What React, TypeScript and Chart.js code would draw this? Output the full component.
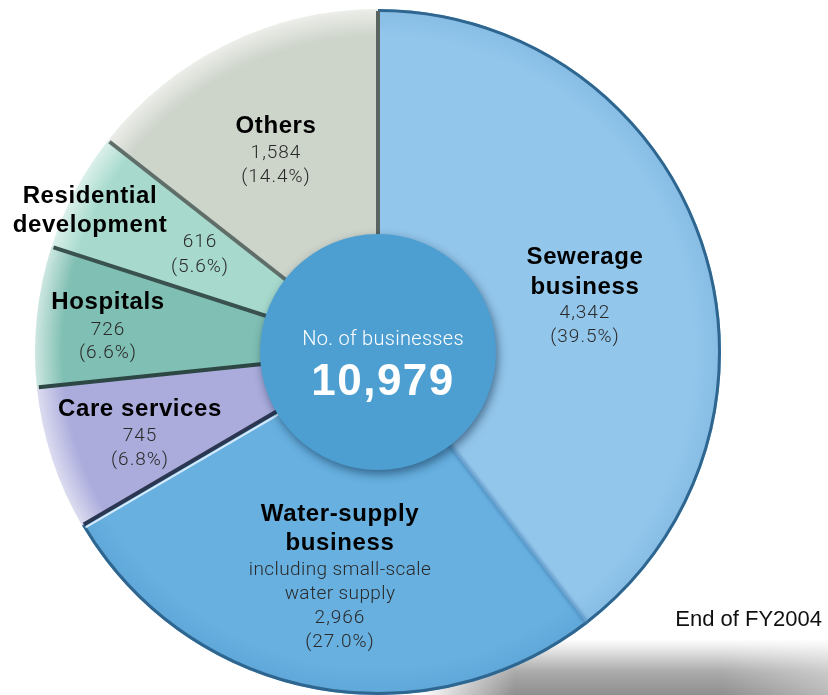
import React, { useEffect, useRef } from "react";
import { Chart, registerables } from "chart.js";

Chart.register(...registerables);

// ---------- data ----------
const categories: string[][] = [
  ["Sewerage", "business"],
  ["Water-supply", "business"],
  ["Care services"],
  ["Hospitals"],
  ["Residential", "development"],
  ["Others"],
];
const values: number[] = [4342, 2966, 745, 726, 616, 1584];
const notes: string[][] = [[], ["including small-scale", "water supply"], [], [], [], []];
const centerTitle = "No. of businesses";
const footnote = "End of FY2004";

// ---------- style ----------
const sliceColors = ["#93c6eb", "#67b0e0", "#abacdc", "#80bfb3", "#a7dacd", "#cdd4ca"];
const sliceEdge = ["#86bde4", "#5ea7d8", "#dcdcf0", "#cde7e1", "#dbf0ea", "#eceee9"];
const separatorColors = ["#5a6461", "rgba(70,130,180,0.55)", "#2b3650", "#2c4744", "#3a524f", "#5f6e69"];
const outerBorder = ["#2f6690", "#2f6690", null, null, null, null];

// label layout (page coordinates, line centres)
const labelLayout = [
  { x: 585, names: [257, 287], notes: [], nums: [313, 337] },
  { x: 340, names: [514, 543], notes: [570, 594], nums: [618, 642] },
  { x: 140, names: [409], notes: [], nums: [436, 460] },
  { x: 108, names: [302], notes: [], nums: [330, 353] },
  { x: 90, numX: 200, names: [196, 225], notes: [], nums: [242, 267] },
  { x: 276, names: [126], notes: [], nums: [153, 177] },
];

const BOLD = "bold 24px 'Liberation Sans', Arial, sans-serif";
const LIGHT = "300 19px Roboto, 'Liberation Sans', sans-serif";

const total = values.reduce((a, b) => a + b, 0);

const overlayPlugin = {
  id: "overlay",
  afterDatasetsDraw(chart: any) {
    const ctx: CanvasRenderingContext2D = chart.ctx;
    const meta = chart.getDatasetMeta(0);
    const arcs = meta.data as any[];
    if (!arcs.length) return;
    const cx = arcs[0].x;
    const cy = arcs[0].y;
    const R = arcs[0].outerRadius;

    // outer border on blue slices
    arcs.forEach((a, i) => {
      if (!outerBorder[i]) return;
      ctx.save();
      ctx.beginPath();
      ctx.arc(cx, cy, R - 1.5, a.startAngle, a.endAngle);
      ctx.strokeStyle = outerBorder[i] as string;
      ctx.lineWidth = 3;
      ctx.filter = "blur(0.6px)";
      ctx.stroke();
      ctx.restore();
    });

    // separators
    arcs.forEach((a, i) => {
      const ang = a.startAngle;
      ctx.save();
      ctx.beginPath();
      ctx.moveTo(cx, cy);
      ctx.lineTo(cx + Math.cos(ang) * (R - 2), cy + Math.sin(ang) * (R - 2));
      ctx.strokeStyle = separatorColors[i];
      ctx.lineWidth = i === 1 ? 5 : 4;
      ctx.filter = i === 1 ? "blur(1.5px)" : "blur(0.7px)";
      ctx.stroke();
      if (i === 2) {
        // highlight on the water-supply side
        const nx = -Math.sin(ang);
        const ny = Math.cos(ang);
        ctx.beginPath();
        ctx.moveTo(cx - nx * 3.5, cy - ny * 3.5);
        ctx.lineTo(cx + Math.cos(ang) * (R - 2) - nx * 3.5, cy + Math.sin(ang) * (R - 2) - ny * 3.5);
        ctx.strokeStyle = "rgba(235,245,255,0.85)";
        ctx.lineWidth = 2;
        ctx.stroke();
      }
      ctx.restore();
    });

    // centre circle
    const r0 = R * 0.344;
    ctx.save();
    ctx.beginPath();
    ctx.arc(cx, cy, r0, 0, Math.PI * 2);
    ctx.shadowColor = "rgba(10,40,70,0.55)";
    ctx.shadowBlur = 10;
    ctx.shadowOffsetX = 2;
    ctx.shadowOffsetY = 4;
    ctx.fillStyle = "#4d9fd2";
    ctx.fill();
    ctx.restore();

    ctx.save();
    ctx.textAlign = "center";
    ctx.textBaseline = "middle";
    ctx.fillStyle = "#ffffff";
    ctx.font = "300 20px Roboto, 'Liberation Sans', sans-serif";
    (ctx as any).letterSpacing = "0.3px";
    ctx.fillText(centerTitle, cx + 5, cy - 12);
    ctx.font = "bold 44px 'Liberation Sans', Arial, sans-serif";
    (ctx as any).letterSpacing = "1.5px";
    ctx.fillText(total.toLocaleString("en-US"), cx + 5, cy + 31);
    ctx.restore();

    // slice labels
    ctx.save();
    ctx.textAlign = "center";
    ctx.textBaseline = "middle";
    categories.forEach((lines, i) => {
      const L: any = labelLayout[i];
      ctx.font = BOLD;
      ctx.fillStyle = "#000000";
      (ctx as any).letterSpacing = "0.6px";
      lines.forEach((t, k) => ctx.fillText(t, L.x, L.names[k]));
      ctx.font = LIGHT;
      ctx.fillStyle = "#2a2a2a";
      (ctx as any).letterSpacing = "0.4px";
      notes[i].forEach((t, k) => ctx.fillText(t, L.x, L.notes[k]));
      (ctx as any).letterSpacing = "1px";
      const nx = L.numX ?? L.x;
      ctx.fillText(values[i].toLocaleString("en-US"), nx, L.nums[0]);
      ctx.fillText("(" + ((values[i] / total) * 100).toFixed(1) + "%)", nx, L.nums[1]);
    });
    ctx.restore();

    // footnote
    ctx.save();
    ctx.textAlign = "right";
    ctx.textBaseline = "middle";
    ctx.font = "22px 'Liberation Sans', Arial, sans-serif";
    ctx.fillStyle = "#111111";
    ctx.fillText(footnote, 822, 620);
    ctx.restore();
  },
};

export default function App() {
  const ref = useRef<HTMLCanvasElement | null>(null);

  useEffect(() => {
    if (!ref.current) return;
    const chart = new Chart(ref.current, {
      type: "pie",
      data: {
        labels: categories.map((c) => c.join(" ")),
        datasets: [
          {
            data: values,
            borderWidth: 0,
            backgroundColor: (c: any) => {
              const i = c.dataIndex;
              const chartObj = c.chart;
              const area = chartObj.chartArea;
              if (!area) return sliceColors[i];
              const cx = (area.left + area.right) / 2;
              const cy = (area.top + area.bottom) / 2;
              const r = Math.min(area.right - area.left, area.bottom - area.top) / 2;
              const g = chartObj.ctx.createRadialGradient(cx, cy, 0, cx, cy, r);
              g.addColorStop(0, sliceColors[i]);
              g.addColorStop(0.92, sliceColors[i]);
              g.addColorStop(1, sliceEdge[i]);
              return g;
            },
          },
        ],
      },
      options: {
        responsive: false,
        devicePixelRatio: 1,
        animation: false,
        layout: { padding: { left: 35, right: 107, top: 9, bottom: 0 } },
        plugins: {
          legend: { display: false },
          tooltip: { enabled: false },
        },
      },
      plugins: [overlayPlugin],
    });
    return () => chart.destroy();
  }, []);

  return (
    <div style={{ position: "fixed", left: 0, top: 0, width: 828, height: 695, background: "#ffffff", overflow: "hidden" }}>
      <div
        style={{
          position: "absolute",
          left: 420,
          top: 640,
          width: 430,
          height: 70,
          background:
            "linear-gradient(to bottom, rgba(255,255,255,0) 0%, rgba(150,150,150,0.8) 45%, rgba(125,125,125,1) 100%)",
          WebkitMaskImage: "linear-gradient(to right, rgba(0,0,0,0) 0%, #000 22%, #000 70%, rgba(0,0,0,0.55) 100%)",
          maskImage: "linear-gradient(to right, rgba(0,0,0,0) 0%, #000 22%, #000 70%, rgba(0,0,0,0.55) 100%)",
          filter: "blur(3px)",
        }}
      />
      <canvas ref={ref} width={828} height={695} style={{ position: "absolute", left: 0, top: 0 }} />
    </div>
  );
}
